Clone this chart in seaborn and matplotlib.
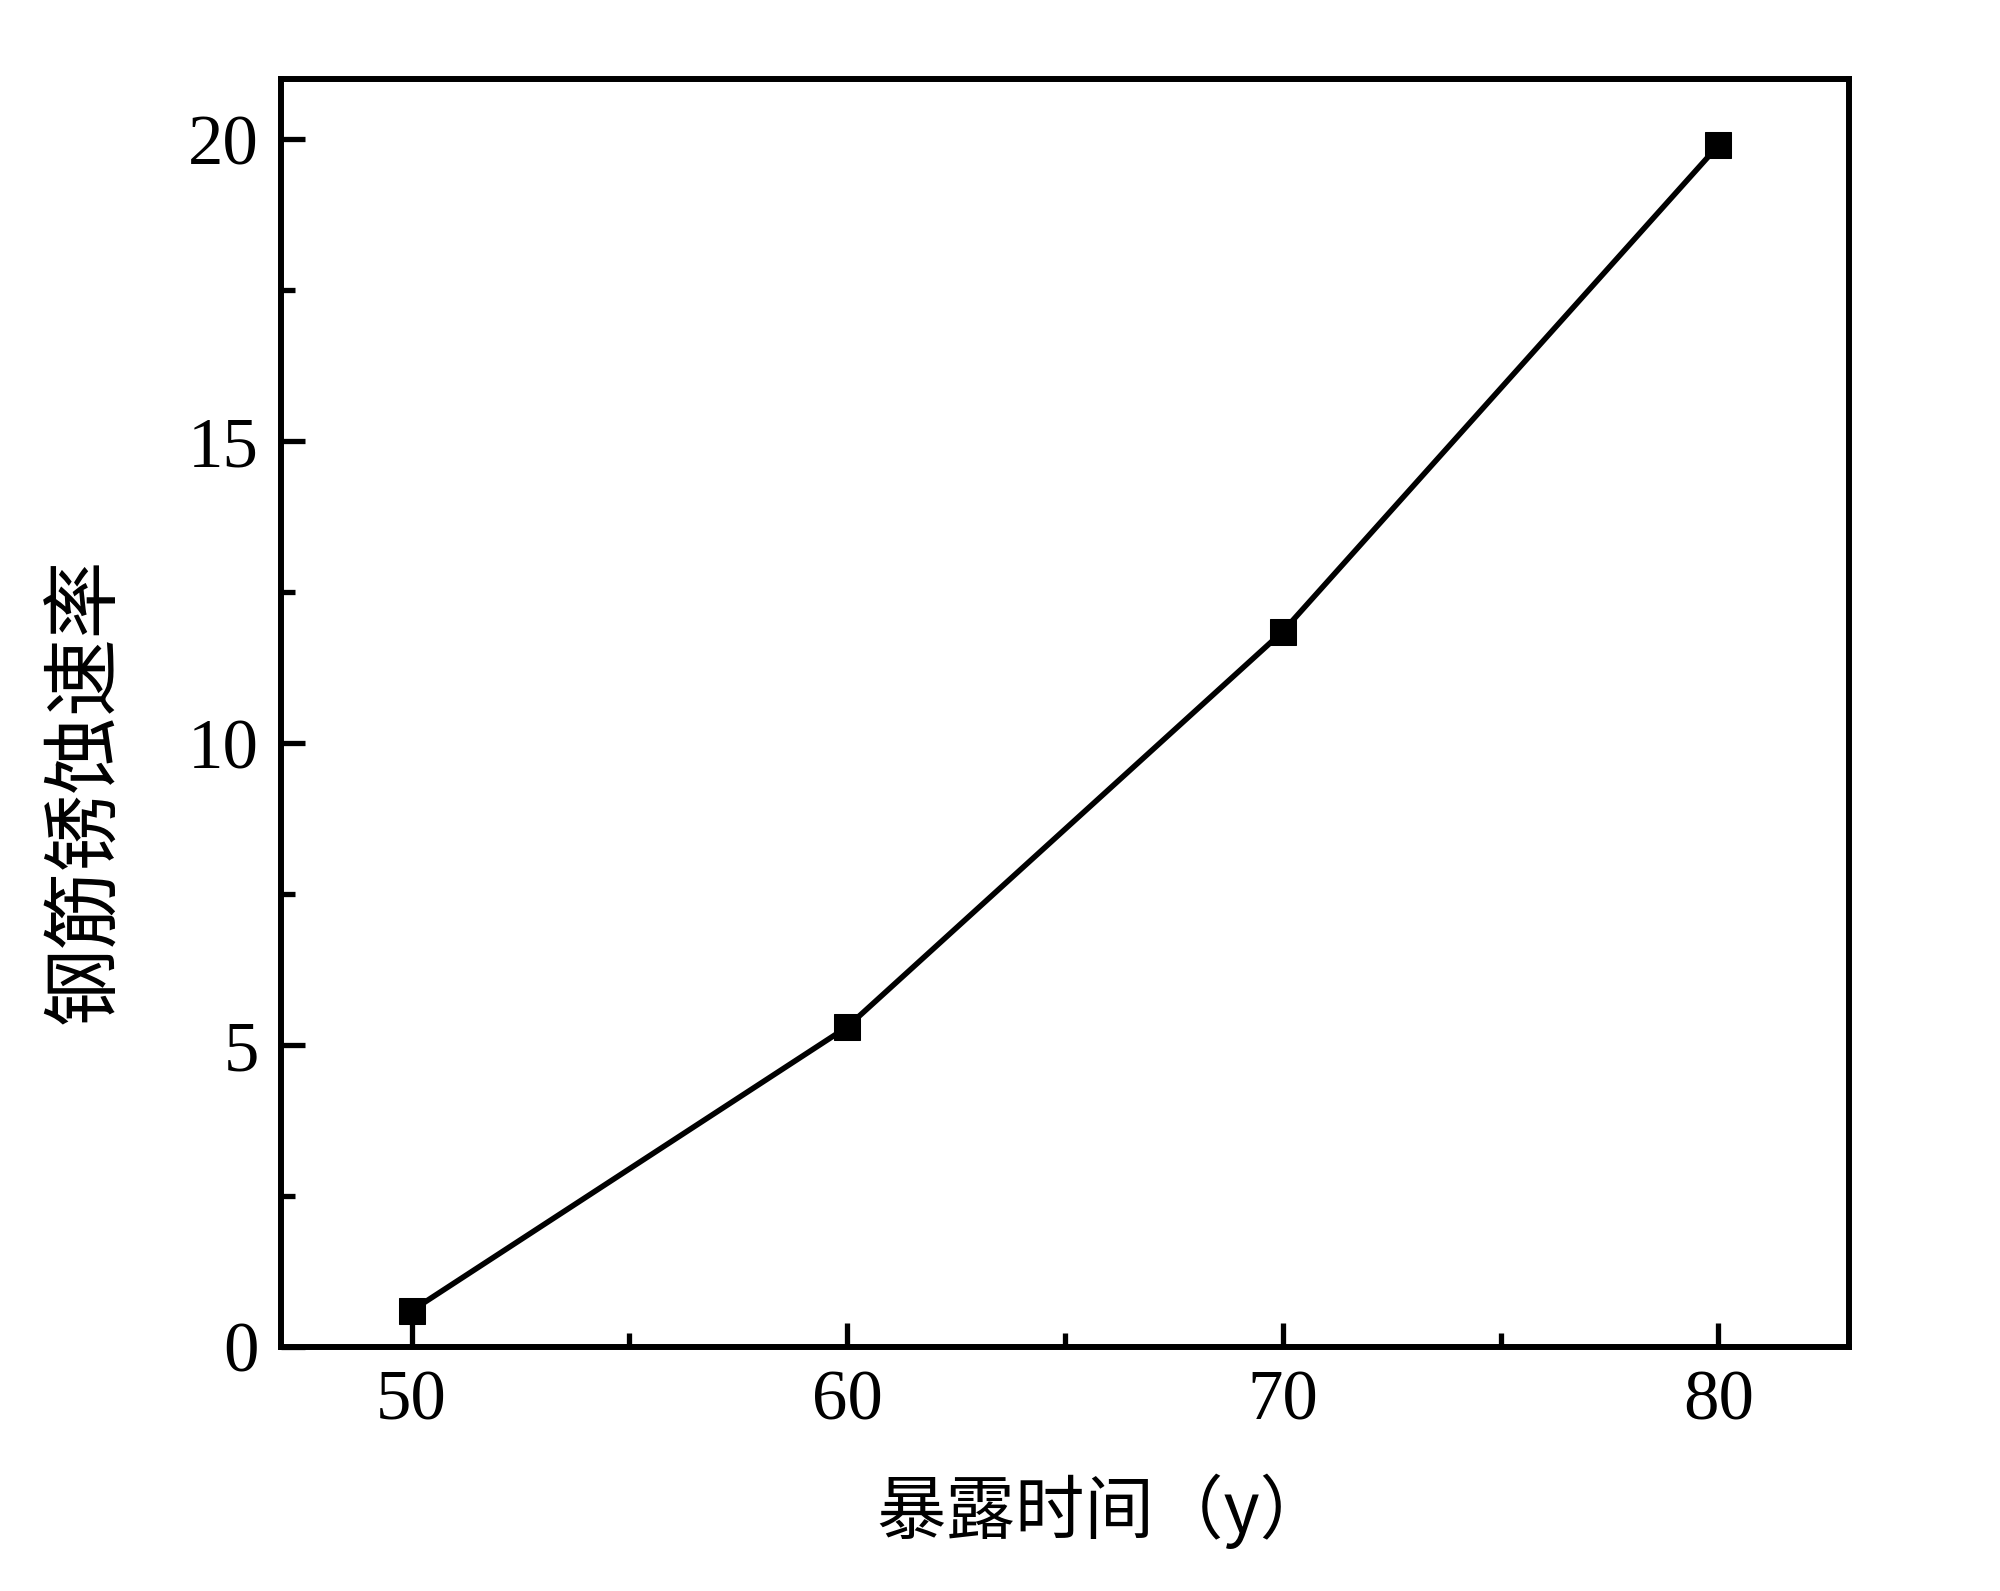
import pandas as pd
import matplotlib.pyplot as plt
import seaborn as sns

# 数据
years = [50, 60, 70, 80]
rates = [0.6, 5.3, 11.85, 19.9]
df = pd.DataFrame({'year': years, 'rate': rates})

sns.set_style('ticks')
plt.rcParams['font.family'] = ['Liberation Serif', 'Noto Sans CJK SC']
plt.rcParams['text.color'] = 'black'
plt.rcParams['xtick.color'] = 'black'
plt.rcParams['ytick.color'] = 'black'
plt.rcParams['axes.labelcolor'] = 'black'

fig = plt.figure(figsize=(20, 15.91), dpi=100)
ax = fig.add_axes([0.1405, 0.1534, 0.784, 0.7969])

sns.lineplot(data=df, x='year', y='rate', ax=ax, color='black', linewidth=4,
             marker='s', markersize=19, markeredgecolor='black')

ax.set_xlim(47, 83)
ax.set_ylim(0, 21)
ax.set_xticks([50, 60, 70, 80])
ax.set_yticks([0, 5, 10, 15, 20])
ax.set_xticks([55, 65, 75], minor=True)
ax.set_yticks([2.5, 7.5, 12.5, 17.5], minor=True)

for s in ax.spines.values():
    s.set_visible(True)
    s.set_linewidth(4.3)
    s.set_color('black')

ax.tick_params(which='major', direction='in', length=17, width=3.8, labelsize=51, pad=16)
ax.tick_params(which='minor', direction='in', length=10, width=3.8)

ax.set_xlabel('暴露时间（y）', fontsize=50, family=['Noto Sans CJK SC', 'Liberation Serif'], va='center')
ax.set_ylabel('钢筋锈蚀速率', fontsize=56, family=['Noto Sans CJK SC'], va='center')
ax.xaxis.set_label_coords(0.524, -0.130)
ax.yaxis.set_label_coords(-0.124, 0.439)

fig.savefig('out.png', dpi=100)
